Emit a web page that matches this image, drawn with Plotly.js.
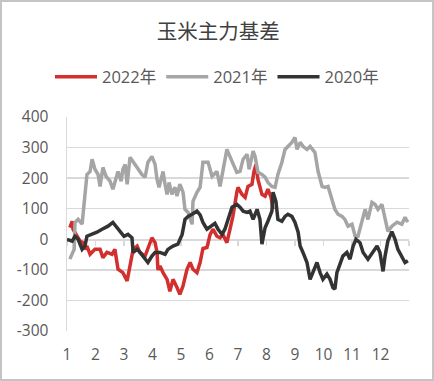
<!DOCTYPE html>
<html>
<head>
<meta charset="utf-8">
<script src="https://cdn.plot.ly/plotly-3.0.1.min.js"></script>
<style>
  html, body { margin: 0; padding: 0; background: #fff; }
  #wrap { position: relative; width: 434px; height: 381px; }
  #chart { position: absolute; left: 0; top: 0; width: 434px; height: 381px; }
  #frame { position: absolute; left: 0; top: 0; width: 434px; height: 381px; box-sizing: border-box; border: 2px solid #c4c4c4; pointer-events: none; }
</style>
</head>
<body>
<div id="wrap"><div id="chart"></div><div id="frame"></div></div>
<script>
// Month position (1 = start of January ... 13 = end of December) and basis values
const months2022 = [1.10,1.18,1.21,1.35,1.46,1.56,1.63,1.70,1.81,1.98,2.16,2.26,2.40,2.58,2.68,2.79,2.96,3.11,3.21,3.32,3.46,3.56,3.74,3.84,3.98,4.09,4.16,4.19,4.26,4.37,4.51,4.61,4.72,4.86,4.96,5.07,5.21,5.32,5.42,5.56,5.67,5.77,5.91,6.02,6.12,6.26,6.37,6.47,6.61,6.72,6.82,6.96,7.00,7.14,7.25,7.35,7.49,7.56,7.63,7.70,7.84,7.95,8.05,8.16,8.23];
const basis2022  = [38,59,33,10,-6,-11,-33,-22,-49,-33,-33,-60,-43,-49,-33,-98,-109,-136,-82,-33,-22,-43,-55,-27,5,-11,-43,-100,-87,-109,-131,-170,-131,-158,-180,-153,-98,-76,-98,-109,-76,-30,-27,15,33,10,5,16,-11,33,75,154,170,147,137,173,180,222,245,196,147,141,164,137,98];

const months2021 = [1.10,1.25,1.28,1.39,1.53,1.60,1.70,1.81,1.88,1.98,2.09,2.16,2.26,2.37,2.51,2.61,2.75,2.79,2.90,2.96,3.04,3.11,3.21,3.32,3.46,3.63,3.74,3.84,3.98,4.09,4.16,4.23,4.37,4.44,4.51,4.58,4.68,4.79,4.86,4.96,5.07,5.14,5.25,5.39,5.42,5.56,5.67,5.77,5.95,6.09,6.26,6.37,6.51,6.61,6.79,6.96,7.07,7.18,7.32,7.39,7.53,7.60,7.70,7.84,7.95,8.05,8.19,8.30,8.40,8.54,8.65,8.75,8.89,9.00,9.07,9.18,9.28,9.42,9.53,9.70,9.81,9.95,10.05,10.16,10.30,10.40,10.51,10.65,10.75,10.86,11.00,11.11,11.21,11.35,11.46,11.56,11.70,11.81,11.91,12.05,12.16,12.26,12.40,12.58,12.75,12.86,12.96];
const basis2021  = [-65,-33,55,65,50,108,212,222,262,229,212,173,235,206,190,164,212,222,190,229,245,180,268,255,235,212,203,252,271,245,196,170,222,180,147,186,147,170,141,180,154,98,88,49,124,154,170,252,252,206,222,173,245,294,255,219,222,262,278,229,288,271,219,212,203,186,173,170,212,252,294,304,317,333,294,317,304,294,304,284,222,173,170,173,124,98,82,75,65,43,49,10,10,59,98,65,121,114,98,114,65,26,43,56,49,72,56];

const months2020 = [1.00,1.18,1.28,1.39,1.53,1.63,1.70,1.88,2.05,2.23,2.33,2.44,2.61,2.75,2.86,3.00,3.14,3.28,3.32,3.46,3.56,3.67,3.84,3.98,4.09,4.26,4.44,4.54,4.72,4.89,5.04,5.14,5.25,5.39,5.56,5.67,5.77,5.91,6.05,6.19,6.30,6.44,6.54,6.65,6.79,6.96,7.07,7.18,7.32,7.42,7.53,7.67,7.77,7.84,7.95,8.05,8.19,8.23,8.33,8.40,8.54,8.65,8.75,8.89,9.00,9.11,9.18,9.28,9.42,9.53,9.63,9.77,9.88,9.98,10.12,10.23,10.33,10.40,10.47,10.58,10.68,10.82,10.93,11.04,11.14,11.28,11.39,11.56,11.74,11.88,11.98,12.09,12.16,12.26,12.40,12.51,12.61,12.75,12.86,12.96];
const basis2020  = [0,-6,10,0,-33,-22,10,16,23,33,38,43,55,38,27,10,16,5,-43,-33,-43,-55,-76,-55,-43,-43,-49,-33,-22,-16,16,65,75,82,92,80,55,33,43,52,33,16,33,65,105,114,105,92,88,92,65,98,65,-16,38,59,92,154,124,65,59,75,82,75,55,23,-22,-43,-76,-131,-109,-76,-109,-131,-114,-131,-158,-163,-109,-82,-55,-43,-65,-22,0,-11,-43,-65,-43,-22,-43,-105,-55,-5,25,0,-33,-55,-76,-70];

const seriesNames = ['2022年', '2021年', '2020年'];
const seriesColors = ['#d42f2f', '#a5a5a5', '#333333'];
const xTickVals = [1,2,3,4,5,6,7,8,9,10,11,12];
const xTickText = ['1','2','3','4','5','6','7','8','9','10','11','12'];
const yTickVals = [-300,-200,-100,0,100,200,300,400];
const yTickText = ['-300','-200','-100','0','100','200','300','400'];

const xs = [months2022, months2021, months2020];
const ys = [basis2022, basis2021, basis2020];

const traces = xs.map((x, i) => ({
  type: 'scatter', mode: 'lines', name: seriesNames[i],
  x: x, y: ys[i],
  line: { color: seriesColors[i], width: 3.5, shape: 'linear' },
  hoverinfo: 'skip'
}));
// empty trace to carry the axis drawn at y = 0
traces.push({ type: 'scatter', mode: 'lines', x: [], y: [], xaxis: 'x2', showlegend: false, hoverinfo: 'skip' });

const tickFont = { family: 'Open Sans, Liberation Sans, sans-serif', size: 15.5, color: '#595959' };

const layout = {
  width: 434, height: 381,
  margin: { l: 67, r: 25, t: 117, b: 50, pad: 0 },
  paper_bgcolor: '#ffffff', plot_bgcolor: '#ffffff',
  showlegend: true,
  title: {
    text: '玉米主力基差',
    font: { family: 'Noto Sans CJK SC, sans-serif', size: 20.5, color: '#404040' },
    xref: 'container', yref: 'container', x: 0.503, y: 1 - 32/381, xanchor: 'center', yanchor: 'middle'
  },
  legend: {
    orientation: 'h', xref: 'container', yref: 'container',
    x: 50/434, y: 1 - 77/381, xanchor: 'left', yanchor: 'middle',
    font: { family: 'Open Sans, Noto Sans CJK SC, sans-serif', size: 16.5, color: '#595959' },
    itemwidth: 42,
    bgcolor: 'rgba(0,0,0,0)', traceorder: 'normal'
  },
  xaxis: {
    range: [1, 13], tickvals: xTickVals, ticktext: xTickText,
    showgrid: false, zeroline: false, showline: false, ticks: '',
    tickfont: tickFont, ticklabelstandoff: 12, fixedrange: true
  },
  xaxis2: {
    overlaying: 'x', anchor: 'free', position: 300/700, side: 'bottom',
    range: [1, 13], tickvals: [1,2,3,4,5,6,7,8,9,10,11,12,13],
    showticklabels: false, ticks: 'outside', ticklen: 5, tickwidth: 1.5, tickcolor: '#d9d9d9',
    showline: true, linecolor: '#d9d9d9', linewidth: 1.5,
    showgrid: false, zeroline: false, layer: 'below traces'
  },
  yaxis: {
    range: [-300, 400], tickvals: yTickVals, ticktext: yTickText,
    showgrid: true, gridcolor: '#d9d9d9', gridwidth: 1.5,
    zeroline: false, showline: true, linecolor: '#d9d9d9', linewidth: 1.5,
    ticks: '', tickfont: tickFont, ticklabelstandoff: 14, fixedrange: true
  }
};

Plotly.newPlot('chart', traces, layout, { displayModeBar: false, staticPlot: true });
</script>
</body>
</html>
